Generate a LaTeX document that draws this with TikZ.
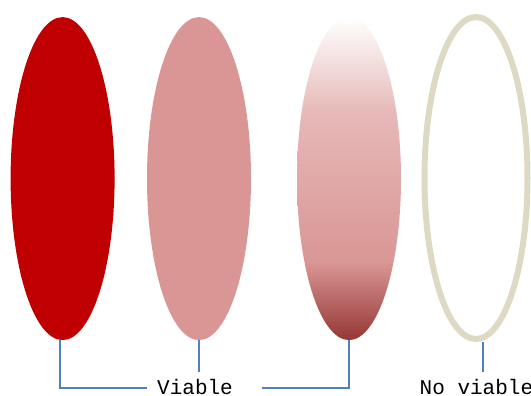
\documentclass[tikz,border=0pt]{standalone}
\usepackage{fontspec}
\setmonofont{Liberation Mono}
\usetikzlibrary{shapes.geometric}
\definecolor{darkred}{HTML}{C00000}
\definecolor{rosered}{HTML}{D99694}
\definecolor{palerose}{HTML}{E6B8B7}
\definecolor{deepred}{HTML}{953735}
\definecolor{sand}{HTML}{DDD9C3}
\definecolor{linkblue}{HTML}{4F81BD}
\pgfdeclareverticalshading{fadered}{100bp}{color(0bp)=(deepred); color(25bp)=(deepred); color(37bp)=(rosered); color(60bp)=(palerose); color(75bp)=(white); color(100bp)=(white)}
\begin{document}
\begin{tikzpicture}[x=1pt,y=-1pt,
  blob/.style={ellipse,inner sep=0pt,minimum width=104pt,minimum height=323pt},
  link/.style={draw=linkblue,line width=2pt},
  lbl/.style={font=\ttfamily\fontsize{21}{25}\selectfont,inner sep=0pt,text depth=0pt,anchor=base west}]
\useasboundingbox (0,0) rectangle (531,396);
% the four samples
\node[blob,fill=darkred] (e1) at (62.6,178.6) {};
\node[blob,fill=rosered] (e2) at (199,178.6) {};
\node[blob,shading=fadered] (e3) at (349,178.6) {};
\node[blob,draw=sand,line width=6pt,minimum width=103pt,minimum height=322pt] (e4) at (476,178) {};
% labels
\node[lbl] (via) at (157,394) {Viable};
\node[lbl] (nov) at (419.5,394) {No viable};
% brackets
\coordinate (b1) at (60,387.6);
\coordinate (h1) at (146.6,387.6);
\coordinate (h2) at (261.8,387.6);
\coordinate (b3) at (348.8,387.6);
\coordinate (t2) at (199.1,372.3);
\coordinate (t4) at (483.2,372.3);
\draw[link] (e1.south -| b1) -- (b1) -- (h1);
\draw[link] (h2) -- (b3) -- (e3.south -| b3);
\draw[link] (e2.south -| t2) -- (t2);
\draw[link] (e4.south -| t4) -- (t4);
\end{tikzpicture}
\end{document}
